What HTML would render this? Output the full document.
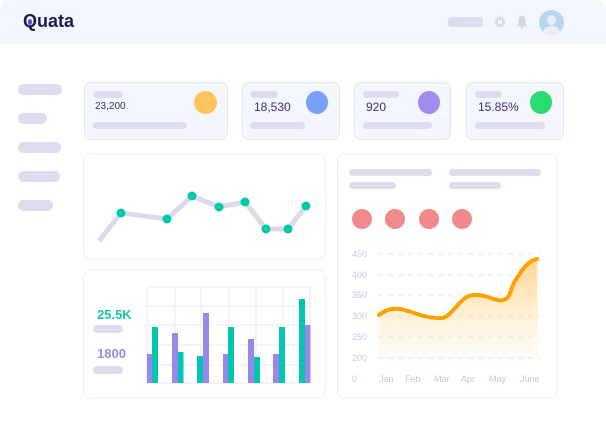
<!DOCTYPE html>
<html><head><meta charset="utf-8"><style>
body{margin:0;width:606px;height:435px;background:#fff;position:relative;overflow:hidden;font-family:"Liberation Sans",sans-serif}
.a{position:absolute}
.p{position:absolute;background:#dfdcef;border-radius:6px}
.card{position:absolute;background:#f4f6fd;border:1px solid #e3e6f3;border-radius:7px;box-sizing:border-box}
.wc{position:absolute;background:#fff;border:1px solid #eceef6;border-radius:8px;box-sizing:border-box}
.num{position:absolute;color:#3b2f6e;font-size:11px}
.c{position:absolute;border-radius:50%}
</style></head><body>
<div class="a" style="left:0;top:0;width:606px;height:44px;background:#f3f6fd;border-radius:10px 10px 0 0"></div>
<div class="a" style="left:23px;top:11px;font-size:18px;font-weight:bold;color:#1e1b4b">Quata</div>
<div class="c" style="left:28px;top:19px;width:4px;height:6px;background:#4f46e5"></div>
<div class="p" style="left:448px;top:17px;width:35px;height:10px;border-radius:3px"></div>
<svg class="a" style="left:494px;top:16px" width="12" height="12" viewBox="0 0 12 12"><circle cx="6" cy="6" r="4.2" fill="none" stroke="#d6d4ea" stroke-width="2.4" stroke-dasharray="1.6,1.1"/><circle cx="6" cy="6" r="3.2" fill="none" stroke="#d6d4ea" stroke-width="1.6"/></svg>
<svg class="a" style="left:516px;top:15px" width="12" height="14" viewBox="0 0 12 14"><path d="M6,1 C3,1 2.5,4 2.5,6 L2.5,9 L1,11 L11,11 L9.5,9 L9.5,6 C9.5,4 9,1 6,1 Z" fill="#d6d4ea"/><circle cx="6" cy="12.3" r="1.4" fill="#d6d4ea"/></svg>
<div class="c" style="left:539px;top:10px;width:25px;height:25px;background:#b9d6f0;overflow:hidden"><div class="c" style="left:8px;top:5px;width:9px;height:10px;background:#e8eef5"></div><div class="c" style="left:4px;top:16px;width:17px;height:14px;background:#e8eef5"></div></div>
<div class="p" style="left:18px;top:84px;width:44px;height:11px"></div>
<div class="p" style="left:18px;top:113px;width:29px;height:11px"></div>
<div class="p" style="left:18px;top:142px;width:43px;height:11px"></div>
<div class="p" style="left:18px;top:171px;width:42px;height:11px"></div>
<div class="p" style="left:18px;top:200px;width:35px;height:11px"></div>

<div class="card" style="left:84px;top:82px;width:144px;height:58px"></div>
<div class="p" style="left:93px;top:91px;width:30px;height:7px"></div>
<div class="num" style="left:95px;top:101px;font-size:10px">23,200</div>
<div class="p" style="left:93px;top:122px;width:94px;height:7px"></div>
<div class="c" style="left:194px;top:91px;width:23px;height:23px;background:#ffc35e"></div>

<div class="card" style="left:242px;top:82px;width:98px;height:58px"></div>
<div class="p" style="left:250px;top:91px;width:28px;height:7px"></div>
<div class="num" style="left:254px;top:100px;font-size:12px">18,530</div>
<div class="p" style="left:250px;top:122px;width:55px;height:7px"></div>
<div class="c" style="left:306px;top:91px;width:22px;height:23px;background:#78a0f8"></div>

<div class="card" style="left:354px;top:82px;width:97px;height:58px"></div>
<div class="p" style="left:363px;top:91px;width:36px;height:7px"></div>
<div class="num" style="left:366px;top:100px;font-size:12px">920</div>
<div class="p" style="left:363px;top:122px;width:69px;height:7px"></div>
<div class="c" style="left:418px;top:91px;width:22px;height:23px;background:#9f8ced"></div>

<div class="card" style="left:466px;top:82px;width:98px;height:58px"></div>
<div class="p" style="left:475px;top:91px;width:27px;height:7px"></div>
<div class="num" style="left:478px;top:100px;font-size:12px">15.85%</div>
<div class="p" style="left:475px;top:122px;width:70px;height:7px"></div>
<div class="c" style="left:530px;top:91px;width:22px;height:23px;background:#28dc72"></div>

<div class="wc" style="left:83px;top:153px;width:243px;height:107px"></div>
<div class="wc" style="left:83px;top:270px;width:243px;height:129px"></div>
<div class="wc" style="left:337px;top:153px;width:221px;height:246px"></div>

<div class="a" style="left:97px;top:307px;font-size:13px;font-weight:bold;color:#19c7a6">25.5K</div>
<div class="p" style="left:93px;top:325px;width:30px;height:8px"></div>
<div class="a" style="left:97px;top:346px;font-size:13px;font-weight:bold;color:#9b87ec">1800</div>
<div class="p" style="left:93px;top:366px;width:30px;height:8px"></div>

<div class="p" style="left:349px;top:169px;width:83px;height:7px"></div>
<div class="p" style="left:349px;top:182px;width:47px;height:7px"></div>
<div class="p" style="left:449px;top:169px;width:92px;height:7px"></div>
<div class="p" style="left:449px;top:182px;width:52px;height:7px"></div>

<svg class="a" style="left:0;top:0" width="606" height="435">
<polyline points="99,241 121,213 167,219 192,196 219,207 245,202 266,229 288,229 306,206" fill="none" stroke="#dcd9ee" stroke-width="5"/>
<g fill="#00c9a7"><circle cx="121" cy="213" r="4.5"/><circle cx="167" cy="219" r="4.5"/><circle cx="192" cy="196" r="4.5"/><circle cx="219" cy="207" r="4.5"/><circle cx="245" cy="202" r="4.5"/><circle cx="266" cy="229" r="4.5"/><circle cx="288" cy="229" r="4.5"/><circle cx="306" cy="206" r="4.5"/></g>
<g stroke="#e8eaf6" stroke-width="1">
<line x1="147" y1="287" x2="310" y2="287"/><line x1="147" y1="306" x2="310" y2="306"/><line x1="147" y1="325" x2="310" y2="325"/><line x1="147" y1="345" x2="310" y2="345"/><line x1="147" y1="365" x2="310" y2="365"/><line x1="147" y1="383" x2="310" y2="383"/>
<line x1="147" y1="287" x2="147" y2="383"/><line x1="175" y1="287" x2="175" y2="383"/><line x1="201" y1="287" x2="201" y2="383"/><line x1="229" y1="287" x2="229" y2="383"/><line x1="256" y1="287" x2="256" y2="383"/><line x1="283" y1="287" x2="283" y2="383"/><line x1="310" y1="287" x2="310" y2="383"/>
</g>
<g fill="#9b87ec"><rect x="147" y="354" width="5.5" height="29"/><rect x="172" y="333" width="6" height="50"/><rect x="203" y="313" width="6" height="70"/><rect x="223" y="354" width="5.5" height="29"/><rect x="248" y="339" width="6" height="44"/><rect x="273" y="354" width="6" height="29"/><rect x="305" y="325" width="5.5" height="58"/></g>
<g fill="#00c7ad"><rect x="152" y="327" width="6" height="56"/><rect x="178" y="352" width="5.5" height="31"/><rect x="197" y="356" width="6" height="27"/><rect x="228" y="327" width="6" height="56"/><rect x="254" y="357" width="6" height="26"/><rect x="279" y="327" width="6" height="56"/><rect x="299" y="299" width="6" height="84"/></g>
<g fill="#f08a8a"><circle cx="362" cy="219" r="10"/><circle cx="395" cy="219" r="10"/><circle cx="429" cy="219" r="10"/><circle cx="462" cy="219" r="10"/></g>
<g stroke="#e3e6f3" stroke-dasharray="5,5"><line x1="378" y1="254" x2="540" y2="254"/><line x1="378" y1="275" x2="540" y2="275"/><line x1="378" y1="295" x2="540" y2="295"/><line x1="378" y1="316" x2="540" y2="316"/><line x1="378" y1="337" x2="540" y2="337"/><line x1="378" y1="358" x2="540" y2="358"/></g>
<defs><linearGradient id="g" x1="0" y1="0" x2="0" y2="1"><stop offset="0" stop-color="#ffc766" stop-opacity="0.75"/><stop offset="1" stop-color="#ffe9c4" stop-opacity="0.15"/></linearGradient></defs>
<path d="M379,315 C386,309 393,308 400,309 C412,311 425,319 442,318 C452,317 460,296 473,295 C486,294 496,302 503,300 C510,299 510,291 514,283 C522,269 528,261 537,259 L538,358 L379,358 Z" fill="url(#g)"/>
<path d="M379,315 C386,309 393,308 400,309 C412,311 425,319 442,318 C452,317 460,296 473,295 C486,294 496,302 503,300 C510,299 510,291 514,283 C522,269 528,261 537,259" fill="none" stroke="#ffa100" stroke-width="4" stroke-linecap="round"/>
<g font-family="Liberation Sans,sans-serif" font-size="9" fill="#c9c6e2">
<text x="352" y="257">450</text><text x="352" y="278">400</text><text x="352" y="298">350</text><text x="352" y="319">300</text><text x="352" y="340">250</text><text x="352" y="361">200</text><text x="352" y="382">0</text>
<text x="379" y="382">Jan</text><text x="405" y="382">Feb</text><text x="434" y="382">Mar</text><text x="461" y="382">Apr</text><text x="489" y="382">May</text><text x="520" y="382">June</text>
</g>
</svg>
</body></html>
